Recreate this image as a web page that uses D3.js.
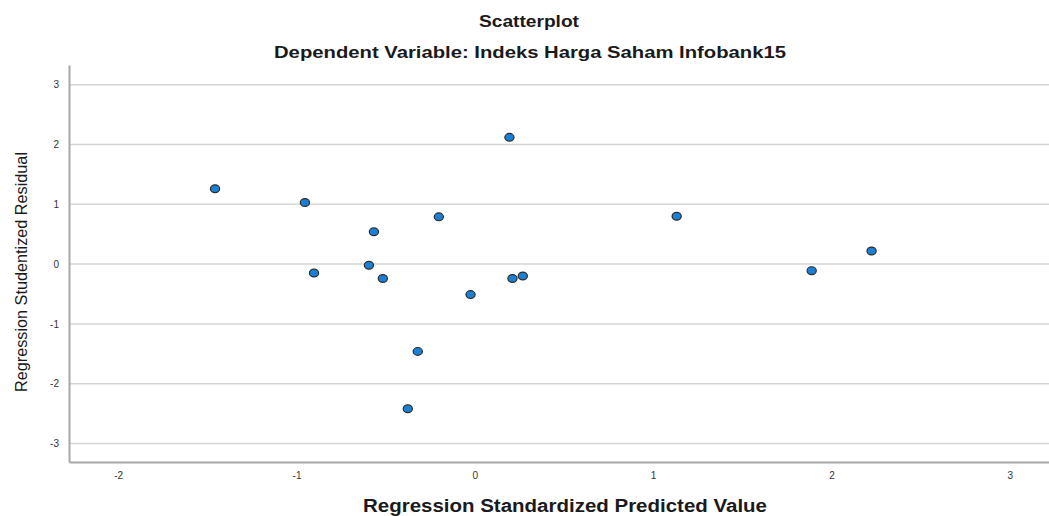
<!DOCTYPE html>
<html>
<head>
<meta charset="utf-8">
<script src="https://cdn.jsdelivr.net/npm/d3@7"></script>
<style>
  body { margin: 0; background: #fff; }
  text { font-family: "Liberation Sans", Arial, sans-serif; }
</style>
</head>
<body>
<div id="chart"></div>
<script>
// predicted (standardized) vs studentized residual
var predicted = [-1.457, -0.953, -0.902, -0.566, -0.594, -0.516, -0.202, -0.320,
                 -0.376, -0.024, 0.194, 0.211, 0.269, 1.132, 1.889, 2.225];
var residual  = [1.26, 1.03, -0.15, 0.54, -0.02, -0.24, 0.79, -1.46,
                 -2.42, -0.51, 2.12, -0.24, -0.20, 0.80, -0.11, 0.22];
var xTicks = [-2, -1, 0, 1, 2, 3];
var yTicks = [-3, -2, -1, 0, 1, 2, 3];

var width = 1049, height = 516;
var margin = {left: 69, right: 1049, top: 65, bottom: 462};

var svg = d3.select("#chart").append("svg")
  .attr("width", width)
  .attr("height", height);

var x = d3.scaleLinear().domain([-2.276, 3.22]).range([margin.left, margin.right]);
var y = d3.scaleLinear().domain([-3.31, 3.33]).range([margin.bottom, margin.top]);

// grid lines
svg.selectAll(".grid")
  .data(yTicks)
  .enter()
  .append("line")
  .attr("x1", margin.left)
  .attr("x2", margin.right)
  .attr("y1", function(d){ return y(d); })
  .attr("y2", function(d){ return y(d); })
  .attr("stroke", "#d4d4d4")
  .attr("stroke-width", 1.5);

// axes
var fmt = function(d){ return String(d); };
var yAxis = svg.append("g")
  .attr("transform", "translate(" + margin.left + ",0)")
  .call(d3.axisLeft(y).tickValues(yTicks).tickSize(0).tickPadding(10).tickFormat(fmt));
var xAxis = svg.append("g")
  .attr("transform", "translate(0," + margin.bottom + ")")
  .call(d3.axisBottom(x).tickValues(xTicks).tickSize(0).tickPadding(10).tickFormat(fmt));

[xAxis, yAxis].forEach(function(a){
  a.select(".domain").attr("stroke", "#a8a8a8").attr("stroke-width", 2);
  a.selectAll("text")
    .attr("fill", "#333")
    .style("font-family", "'Liberation Sans', Arial, sans-serif")
    .style("font-size", "10px");
});

// points
svg.selectAll(".pt")
  .data(predicted)
  .enter()
  .append("ellipse")
  .attr("cx", function(d){ return x(d); })
  .attr("cy", function(d, i){ return y(residual[i]); })
  .attr("rx", 4.6)
  .attr("ry", 3.9)
  .attr("fill", "#1a80d6")
  .attr("stroke", "#2b2b2b")
  .attr("stroke-width", 1.2);

// titles
svg.append("text")
  .attr("x", 529).attr("y", 27)
  .attr("text-anchor", "middle")
  .attr("textLength", 100)
  .attr("lengthAdjust", "spacingAndGlyphs")
  .style("font-size", "16px")
  .style("font-weight", "bold")
  .attr("fill", "#1a1a1a")
  .text("Scatterplot");

svg.append("text")
  .attr("x", 530).attr("y", 58)
  .attr("text-anchor", "middle")
  .attr("textLength", 512)
  .attr("lengthAdjust", "spacingAndGlyphs")
  .style("font-size", "16px")
  .style("font-weight", "bold")
  .attr("fill", "#1a1a1a")
  .text("Dependent Variable: Indeks Harga Saham Infobank15");

svg.append("text")
  .attr("transform", "translate(27,272) rotate(-90)")
  .attr("text-anchor", "middle")
  .attr("textLength", 240)
  .attr("lengthAdjust", "spacingAndGlyphs")
  .style("font-size", "16px")
  .attr("fill", "#1a1a1a")
  .text("Regression Studentized Residual");

svg.append("text")
  .attr("x", 565).attr("y", 512)
  .attr("text-anchor", "middle")
  .attr("textLength", 404)
  .attr("lengthAdjust", "spacingAndGlyphs")
  .style("font-size", "18px")
  .style("font-weight", "bold")
  .attr("fill", "#1a1a1a")
  .text("Regression Standardized Predicted Value");
</script>
</body>
</html>
